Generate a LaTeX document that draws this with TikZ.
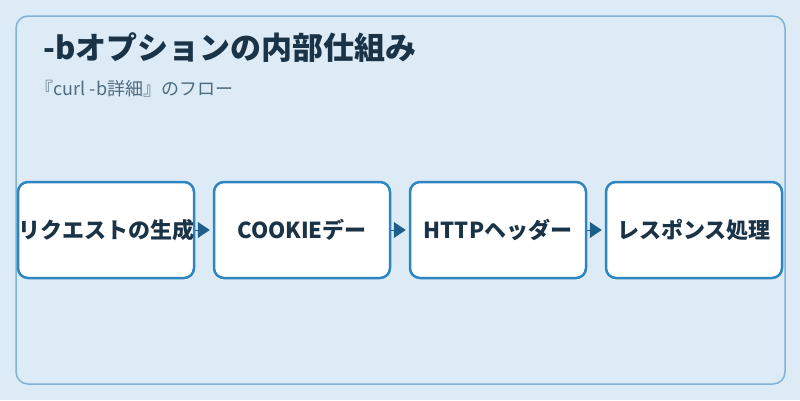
\documentclass[tikz,border=0pt]{standalone}
\usepackage{fontspec}
\setmainfont{Noto Sans CJK JP}
\usetikzlibrary{positioning,arrows.meta}
\definecolor{bgblue}{HTML}{DCEBF6}
\definecolor{framec}{HTML}{7FB3D5}
\definecolor{boxline}{HTML}{2E86C1}
\definecolor{arrowc}{HTML}{1F5F8B}
\definecolor{titlec}{HTML}{1B3346}
\definecolor{subc}{HTML}{4F6B80}
\begin{document}
\begin{tikzpicture}[x=1pt,y=-1pt,
    stepbox/.style={rectangle, rounded corners=10pt, draw=boxline, line width=2.5pt, fill=white,
      minimum width=176pt, minimum height=96pt, inner sep=0pt,
      font=\fontsize{22}{24}\selectfont\bfseries, text=titlec},
    flow/.style={draw=arrowc, line width=0.8pt, -{Triangle[length=12pt,width=16pt]}, shorten >=3pt}]
\useasboundingbox (0,0) rectangle (800,400);
\fill[bgblue] (0,0) rectangle (800,400);
\draw[framec, line width=1.5pt, rounded corners=12pt] (16,16) rectangle (785,384);
\node[anchor=west, font=\fontsize{31}{36}\selectfont\bfseries, text=titlec] (title) at (40,48) {-bオプションの内部仕組み};
\node[anchor=west, font=\fontsize{18}{21}\selectfont, text=subc] (sub) at (32,89) {『curl -b詳細』のフロー};

\node[stepbox] (s1) at (106,230) {リクエストの生成};
\node[stepbox] (s2) at (302,230) {COOKIEデー};
\node[stepbox] (s3) at (498,230) {HTTPヘッダー};
\node[stepbox] (s4) at (694,230) {レスポンス処理};

\foreach \from\to in {s1/s2,s2/s3,s3/s4}
    \draw[flow] (\from) -- (\to);
\end{tikzpicture}
\end{document}
